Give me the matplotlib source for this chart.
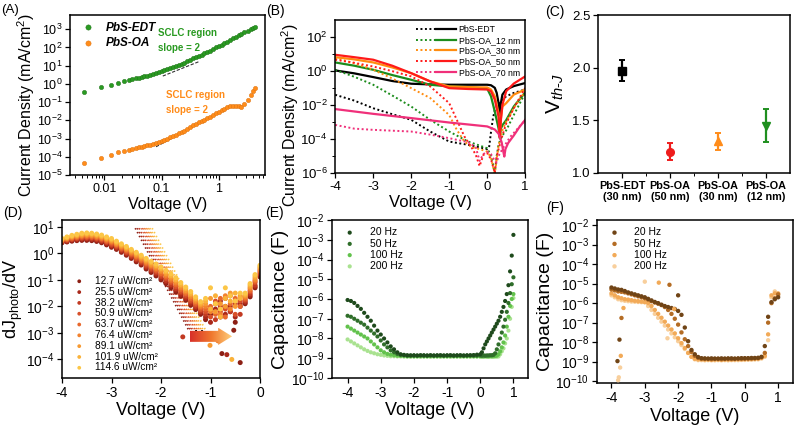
import numpy as np
import matplotlib
matplotlib.use("Agg")
import matplotlib.pyplot as plt
from matplotlib.legend_handler import HandlerTuple
from matplotlib.colors import LinearSegmentedColormap
from matplotlib.patches import Polygon
from matplotlib.ticker import FixedLocator, NullFormatter, NullLocator

plt.rcParams["font.family"] = ["Liberation Sans", "DejaVu Sans"]
plt.rcParams["mathtext.fontset"] = "custom"
plt.rcParams["mathtext.rm"] = "Liberation Sans"
plt.rcParams["mathtext.it"] = "Liberation Sans:italic"
plt.rcParams["mathtext.bf"] = "Liberation Sans:bold"
plt.rcParams["axes.unicode_minus"] = False
plt.rcParams["axes.linewidth"] = 1.1

# ---- (A) dark J-V, log-log
a_volt = [0.0044, 0.0088, 0.0132, 0.0176, 0.022, 0.0264, 0.0308, 0.0352, 0.04, 0.045,
          0.05, 0.056, 0.063, 0.07, 0.08, 0.09, 0.1, 0.112, 0.125, 0.14,
          0.16, 0.18, 0.2, 0.225, 0.25, 0.28, 0.32, 0.36, 0.4, 0.45,
          0.5, 0.56, 0.63, 0.7, 0.8, 0.9, 1.0, 1.12, 1.25, 1.4,
          1.6, 1.8, 2.0, 2.25, 2.5, 2.8, 3.2, 3.6, 4.0, 4.3]
a_edt = [-0.47, -0.19, -0.07, 0.06, 0.15, 0.21, 0.26, 0.30, 0.34, 0.38,
         0.42, 0.46, 0.50, 0.54, 0.59, 0.64, 0.70, 0.75, 0.80, 0.86,
         0.92, 0.98, 1.03, 1.10, 1.17, 1.24, 1.32, 1.40, 1.47, 1.54,
         1.61, 1.68, 1.76, 1.83, 1.92, 2.00, 2.07, 2.16, 2.24, 2.32,
         2.42, 2.50, 2.58, 2.66, 2.74, 2.82, 2.91, 2.99, 3.05, 3.10]
a_oa = [-4.32, -4.05, -3.90, -3.76, -3.68, -3.62, -3.57, -3.52, -3.48, -3.44,
        -3.41, -3.37, -3.33, -3.28, -3.23, -3.18, -3.14, -3.07, -3.00, -2.93,
        -2.85, -2.78, -2.72, -2.64, -2.56, -2.47, -2.37, -2.27, -2.18, -2.11,
        -2.04, -1.96, -1.87, -1.79, -1.69, -1.60, -1.53, -1.44, -1.36, -1.27,
        -1.22, -1.21, -1.22, -1.24, -1.25, -1.10, -0.90, -0.62, -0.38, -0.25]
a_fit_edt_v = [0.105, 0.45]
a_fit_edt = [0.43, 1.22]
a_fit_oa_v = [0.08, 1.5]
a_fit_oa = [-3.45, -1.28]

# ---- (B) J-V, dotted and solid curves
b_labels = ["PbS-EDT", "PbS-OA_12 nm", "PbS-OA_30 nm", "PbS-OA_50 nm", "PbS-OA_70 nm"]
b_edt_v = [-4, -3.5, -3, -2.5, -2, -1.5, -1, -0.5, 0, 0.1, 0.2, 0.25, 0.3, 0.33, 0.36, 0.4, 0.5, 0.7, 1.0]
b_edt = [0.02, -0.15, -0.37, -0.6, -0.76, -0.8, -0.82, -0.82, -0.82, -0.85, -1.0, -1.3, -1.9, -2.6, -1.9, -1.4, -1.1, -0.9, -0.72]
b_12_v = [-4, -3.5, -3, -2.5, -2, -1.5, -1, -0.5, 0, 0.1, 0.2, 0.3, 0.33, 0.36, 0.4, 0.5, 0.7, 1.0]
b_12 = [0.49, 0.3, 0.06, -0.25, -0.53, -0.82, -0.92, -0.96, -1.05, -1.5, -2.4, -3.4, -3.96, -3.4, -3.2, -2.9, -2.1, -1.27]
b_30_v = [-4, -3.5, -3, -2.5, -2, -1.5, -1, -0.5, 0, 0.1, 0.2, 0.3, 0.33, 0.36, 0.4, 0.5, 0.7, 1.0]
b_30 = [0.8, 0.67, 0.49, 0.2, -0.14, -0.63, -0.92, -0.96, -0.98, -1.1, -1.5, -2.5, -3.9, -2.8, -2.1, -1.9, -1.4, -1.1]
b_50_v = [-4, -3.5, -3, -2.5, -2, -1.5, -1, -0.5, 0, 0.1, 0.2, 0.3, 0.33, 0.36, 0.4, 0.5, 0.7, 1.0]
b_50 = [0.94, 0.8, 0.65, 0.3, -0.14, -0.62, -1.02, -1.07, -1.1, -1.2, -1.7, -2.7, -3.9, -2.9, -2.0, -1.2, -0.75, -0.33]
b_70_v = [-4, -3, -2, -1, 0, 0.2, 0.3, 0.38, 0.42, 0.45, 0.48, 0.55, 0.7, 0.85, 1.0]
b_70 = [-2.25, -2.53, -2.78, -3.04, -3.27, -3.45, -3.7, -4.2, -4.7, -5.04, -4.6, -4.25, -3.8, -3.3, -2.88]
b_edt_d_v = [-4, -3.5, -3, -2.5, -2, -1.5, -1, -0.5, 0, 0.05, 0.1, 0.15, 0.2, 0.3, 0.5, 0.7, 1.0]
b_edt_d = [-1.41, -1.75, -2.2, -2.55, -2.88, -3.57, -4.16, -4.35, -4.6, -4.5, -3.6, -2.8, -2.3, -1.9, -1.5, -1.3, -1.1]
b_12_d_v = [-4, -3.5, -3, -2.5, -2, -1.5, -1, -0.5, 0, 0.1, 0.15, 0.2, 0.25, 0.3, 0.4, 0.5, 0.7, 1.0]
b_12_d = [0.06, -0.35, -0.82, -1.45, -2.1, -2.88, -3.57, -4.16, -4.55, -5.0, -5.5, -6.0, -5.0, -4.3, -3.8, -3.5, -2.6, -1.3]
b_30_d_v = [-4, -3.5, -3, -2.5, -2, -1.5, -1, -0.8, -0.6, -0.4, -0.2, 0, 0.1, 0.15, 0.2, 0.25, 0.3, 0.4, 0.5, 0.7, 1.0]
b_30_d = [0.75, 0.45, 0.06, -0.45, -1.02, -1.6, -2.6, -3.47, -4.16, -4.5, -4.6, -4.75, -5.1, -5.6, -6.0, -5.2, -4.4, -3.5, -3.0, -2.2, -1.2]
b_50_d_v = [-4, -3.5, -3, -2.5, -2, -1.5, -1, -0.8, -0.6, -0.4, -0.3, -0.2, -0.1, 0, 0.1, 0.15, 0.2, 0.25, 0.3, 0.4, 0.5, 0.7, 1.0]
b_50_d = [0.65, 0.47, 0.25, -0.02, -0.33, -0.92, -1.9, -2.88, -3.86, -4.55, -4.94, -5.6, -4.94, -4.84, -5.2, -5.6, -6.0, -5.0, -4.6, -3.8, -3.1, -2.2, -1.0]
b_70_d_v = [-4, -3.5, -3, -2.5, -2, -1.5, -1, -0.5, -0.3, -0.2, -0.1, 0, 0.1, 0.2, 0.25, 0.3, 0.4, 0.6, 0.8, 1.0]
b_70_d = [-3.18, -3.4, -3.47, -3.52, -3.57, -3.75, -3.96, -4.2, -4.5, -5.3, -4.9, -4.75, -4.9, -5.3, -5.4, -5.0, -4.6, -3.9, -3.4, -2.9]

# ---- (C) threshold voltage
c_labels = ["PbS-EDT\n(30 nm)", "PbS-OA\n(50 nm)", "PbS-OA\n(30 nm)", "PbS-OA\n(12 nm)"]
c_vth = [1.97, 1.20, 1.30, 1.45]
c_err = [0.10, 0.08, 0.08, 0.16]

# ---- (D) dJphoto/dV for nine light intensities
d_labels = ["12.7 uW/cm²", "25.5 uW/cm²", "38.2 uW/cm²", "50.9 uW/cm²", "63.7 uW/cm²",
            "76.4 uW/cm²", "89.1 uW/cm²", "101.9 uW/cm²", "114.6 uW/cm²"]
d_volt = [-4.0, -3.9, -3.8, -3.7, -3.6, -3.5, -3.4, -3.3, -3.2, -3.1,
          -3.0, -2.9, -2.8, -2.7, -2.6, -2.5, -2.4, -2.3, -2.2, -2.1,
          -2.0, -1.9, -1.8, -1.7, -1.6, -1.5, -1.4, -1.3, -1.2,
          -1.1, -1.0, -0.9, -0.8, -0.7, -0.6, -0.5, -0.4, -0.3, -0.2, -0.1, 0.0]
d_127 = [0.40, 0.43, 0.46, 0.48, 0.49, 0.49, 0.48, 0.45, 0.40, 0.32,
         0.23, 0.15, 0.04, -0.07, -0.19, -0.32, -0.44, -0.59, -0.72, -0.85,
         -1.00, -1.14, -1.30, -1.46, -1.62, -1.77, -1.96, -2.12, -2.30,
         -2.5, -2.3, -1.9, -2.4, -2.0, -2.2, -2.6, -2.0, -1.9, -1.64, -1.3, -0.89]
d_255 = [0.42, 0.45, 0.49, 0.51, 0.52, 0.53, 0.52, 0.49, 0.44, 0.36,
         0.27, 0.19, 0.08, -0.03, -0.15, -0.28, -0.39, -0.54, -0.67, -0.79,
         -0.94, -1.08, -1.23, -1.39, -1.56, -1.71, -1.90, -2.06, -2.24,
         -2.4, -2.6, -2.1, -1.8, -2.3, -2.0, -2.4, -1.9, -1.85, -1.58, -1.25, -0.83]
d_382 = [0.44, 0.48, 0.52, 0.54, 0.56, 0.56, 0.55, 0.52, 0.47, 0.40,
         0.31, 0.23, 0.12, 0.01, -0.11, -0.23, -0.35, -0.49, -0.62, -0.74,
         -0.88, -1.02, -1.17, -1.33, -1.49, -1.65, -1.83, -2.00, -2.18,
         -2.3, -2.1, -2.5, -2.0, -1.7, -2.2, -1.9, -2.3, -1.8, -1.52, -1.2, -0.78]
d_509 = [0.46, 0.50, 0.54, 0.57, 0.59, 0.60, 0.59, 0.56, 0.51, 0.43,
         0.35, 0.27, 0.16, 0.05, -0.06, -0.19, -0.30, -0.44, -0.56, -0.68,
         -0.82, -0.95, -1.10, -1.26, -1.43, -1.58, -1.77, -1.94, -2.12,
         -2.2, -2.4, -1.8, -2.2, -2.1, -1.6, -2.3, -1.8, -1.75, -1.45, -1.1, -0.72]
d_637 = [0.48, 0.53, 0.57, 0.60, 0.63, 0.63, 0.62, 0.59, 0.55, 0.47,
         0.40, 0.31, 0.20, 0.10, -0.02, -0.14, -0.26, -0.39, -0.51, -0.63,
         -0.76, -0.89, -1.04, -1.19, -1.36, -1.52, -1.70, -1.88, -2.06,
         -2.1, -2.0, -2.3, -1.7, -2.4, -1.9, -1.7, -2.0, -1.7, -1.4, -1.05, -0.66]
d_764 = [0.50, 0.55, 0.60, 0.63, 0.66, 0.67, 0.66, 0.63, 0.58, 0.51,
         0.44, 0.34, 0.24, 0.14, 0.02, -0.10, -0.21, -0.34, -0.46, -0.57,
         -0.69, -0.83, -0.97, -1.12, -1.30, -1.46, -1.64, -1.82, -2.00,
         -2.0, -2.2, -1.9, -2.3, -1.6, -2.1, -1.8, -1.65, -1.65, -1.33, -1.0, -0.61]
d_891 = [0.52, 0.57, 0.63, 0.66, 0.69, 0.70, 0.69, 0.66, 0.62, 0.55,
         0.48, 0.38, 0.28, 0.18, 0.07, -0.05, -0.16, -0.29, -0.41, -0.51,
         -0.63, -0.77, -0.90, -1.05, -1.23, -1.40, -1.57, -1.76, -1.94,
         -1.9, -1.7, -2.2, -1.9, -2.0, -1.5, -2.0, -1.6, -1.6, -1.27, -0.93, -0.55]
d_1019 = [0.54, 0.60, 0.65, 0.69, 0.73, 0.74, 0.73, 0.70, 0.65, 0.58,
          0.52, 0.42, 0.32, 0.22, 0.11, 0.00, -0.12, -0.24, -0.35, -0.46,
          -0.57, -0.70, -0.84, -0.99, -1.17, -1.33, -1.51, -1.70, -1.88,
          -1.8, -2.1, -1.6, -2.4, -1.7, -1.8, -1.5, -1.7, -1.55, -1.2, -0.86, -0.5]
d_1146 = [0.56, 0.62, 0.68, 0.72, 0.76, 0.77, 0.76, 0.73, 0.69, 0.62,
          0.56, 0.46, 0.36, 0.26, 0.15, 0.04, -0.07, -0.19, -0.30, -0.40,
          -0.51, -0.64, -0.77, -0.92, -1.10, -1.27, -1.44, -1.64, -1.82,
          -1.7, -1.3, -1.9, -2.1, -1.3, -1.6, -1.8, -1.5, -1.5, -1.14, -0.8, -0.45]
# fine-step streaks (top and bottom end of each streak)
d_streak_top_v = [-2.52, -2.48, -2.44, -2.39, -2.35, -2.31, -2.27, -2.23, -2.18]
d_streak_bot_v = [-1.44, -1.40, -1.36, -1.31, -1.27, -1.23, -1.19, -1.15, -1.10]
d_streak_j = [0.95, -2.9]
# stray low points
d_out_v = [-1.56, -1.01, -0.77, -0.67, -0.57, -0.40, -0.53, -0.85]
d_out = [-3.15, -3.47, -3.78, -3.82, -4.0, -4.12, -2.9, -3.3]
d_out_series = [2, 6, 0, 1, 7, 0, 0, 5]

# ---- (E) C-V, green set
e_labels = ["20 Hz", "50 Hz", "100 Hz", "200 Hz"]
e_volt = [-4.0, -3.9, -3.8, -3.7, -3.6, -3.5, -3.4, -3.3, -3.2, -3.1,
          -3.0, -2.9, -2.8, -2.7, -2.6, -2.5, -2.4, -2.3, -2.2, -2.1,
          -2.0, -1.9, -1.8, -1.7, -1.6, -1.5, -1.4, -1.3, -1.2, -1.1,
          -1.0, -0.9, -0.8, -0.7, -0.6, -0.5, -0.4, -0.3, -0.2, -0.1, 0.0,
          0.05, 0.1, 0.15, 0.2, 0.25, 0.3, 0.35, 0.4, 0.45, 0.5,
          0.55, 0.6, 0.65, 0.7, 0.75, 0.8, 0.85, 0.9, 0.95, 1.0]
e_20 = [-6.05, -6.1, -6.2, -6.35, -6.5, -6.7, -6.9, -7.1, -7.35, -7.6,
        -7.8, -8.0, -8.2, -8.4, -8.55, -8.7, -8.8, -8.83,
        -8.85, -8.86, -8.85, -8.86, -8.85, -8.85, -8.86, -8.85, -8.86, -8.85,
        -8.85, -8.86, -8.85, -8.85, -8.86, -8.85, -8.85, -8.86, -8.85, -8.85,
        -8.84, -8.82, -8.8,
        -8.7, -8.5, -8.3, -8.15, -8.0, -7.85, -7.7, -7.55, -7.4, -7.25,
        -7.1, -6.9, -6.65, -6.4, -6.1, -5.75, -5.3, -4.6, -3.8, -2.75]
e_50 = [-6.85, -6.9, -7.0, -7.1, -7.2, -7.3, -7.45, -7.6, -7.75, -7.9,
        -8.1, -8.3, -8.45, -8.6, -8.7, -8.78, -8.83, -8.85,
        -8.87, -8.86, -8.87, -8.87, -8.86, -8.87, -8.87, -8.86, -8.87, -8.87,
        -8.86, -8.87, -8.87, -8.86, -8.87, -8.87, -8.86, -8.87, -8.87, -8.86,
        -8.87, -8.87, -8.86,
        -8.87, -8.86, -8.87, -8.86, -8.86, -8.85, -8.85, -8.83, -8.75, -8.55,
        -8.3, -8.0, -7.7, -7.4, -7.05, -6.65, -6.2, -5.7, -5.25, -4.9]
e_100 = [-7.4, -7.5, -7.6, -7.7, -7.8, -7.9, -8.0, -8.15, -8.3, -8.45,
         -8.6, -8.7, -8.78, -8.82, -8.85, -8.87, -8.88, -8.88,
         -8.9, -8.89, -8.9, -8.9, -8.89, -8.9, -8.9, -8.89, -8.9, -8.9,
         -8.89, -8.9, -8.9, -8.89, -8.9, -8.9, -8.89, -8.9, -8.9, -8.89,
         -8.9, -8.9, -8.89,
         -8.9, -8.9, -8.89, -8.9, -8.9, -8.89, -8.9, -8.89, -8.88, -8.87,
         -8.8, -8.65, -8.45, -8.2, -7.85, -7.4, -6.9, -6.35, -6.0, -5.75]
e_200 = [-8.05, -8.15, -8.25, -8.35, -8.45, -8.55, -8.63, -8.7, -8.75, -8.8,
         -8.83, -8.86, -8.88, -8.9, -8.9, -8.91, -8.91, -8.92,
         -8.92, -8.93, -8.92, -8.92, -8.93, -8.92, -8.92, -8.93, -8.92, -8.92,
         -8.93, -8.92, -8.92, -8.93, -8.92, -8.92, -8.93, -8.92, -8.92, -8.93,
         -8.92, -8.92, -8.93,
         -8.92, -8.93, -8.92, -8.92, -8.93, -8.92, -8.92, -8.93, -8.92, -8.92,
         -8.91, -8.8, -8.65, -8.5, -8.25, -8.0, -7.6, -7.0, -6.4, -5.95]

# ---- (F) C-V, brown/orange set
f_volt = [-4.0, -3.9, -3.8, -3.7, -3.6, -3.5, -3.4, -3.3, -3.2, -3.1,
          -3.0, -2.9, -2.8, -2.7, -2.6, -2.5, -2.4, -2.3, -2.2, -2.1,
          -2.0, -1.9, -1.8, -1.7, -1.6, -1.5, -1.4, -1.3,
          -1.2, -1.1, -1.0, -0.9, -0.8, -0.7, -0.6, -0.5, -0.4, -0.3,
          -0.2, -0.1, 0.0, 0.1, 0.2, 0.3, 0.4, 0.5,
          0.6, 0.7, 0.8, 0.9, 1.0]
f_20 = [-5.2, -5.25, -5.3, -5.32, -5.38, -5.45, -5.5, -5.55, -5.6, -5.65,
        -5.7, -5.78, -5.86, -5.94, -6.0, -6.08, -6.15, -6.2, -6.25, -6.3,
        -6.4, -6.6, -7.25, -7.95, -8.4, -8.62, -8.76, -8.82,
        -8.83, -8.84, -8.83, -8.84, -8.84, -8.83, -8.84, -8.83, -8.83, -8.84,
        -8.83, -8.82, -8.82, -8.82, -8.81, -8.81, -8.8, -8.75,
        -8.2, -6.7, -5.95, -5.8, -5.7]
f_50 = [-5.3, -5.35, -5.4, -5.42, -5.45, -5.5, -5.55, -5.6, -5.65, -5.7,
        -5.75, -5.82, -5.9, -5.97, -6.03, -6.1, -6.2, -6.35, -6.55, -6.8,
        -7.1, -7.5, -7.85, -8.2, -8.5, -8.7, -8.8, -8.85,
        -8.86, -8.86, -8.87, -8.86, -8.86, -8.87, -8.86, -8.86, -8.86, -8.86,
        -8.85, -8.85, -8.85, -8.84, -8.84, -8.83, -8.82, -8.78,
        -8.55, -7.0, -6.0, -5.75, -5.55]
f_100 = [-5.5, -5.6, -5.7, -5.75, -5.8, -5.82, -5.85, -5.88, -5.9, -5.92,
         -5.95, -6.0, -6.15, -6.35, -6.55, -6.75, -6.95, -7.15, -7.35, -7.55,
         -7.8, -8.05, -8.3, -8.55, -8.75, -8.85, -8.88, -8.88,
         -8.89, -8.89, -8.9, -8.89, -8.89, -8.9, -8.89, -8.89, -8.89, -8.88,
         -8.88, -8.88, -8.87, -8.87, -8.86, -8.85, -8.84, -8.8,
         -8.7, -7.6, -5.6, -5.5, -5.5]
f_200 = [-5.6, -5.7, -5.8, -5.85, -5.88, -5.9, -5.92, -5.93, -5.94, -5.95,
         -5.95, -6.15, -6.35, -6.55, -6.75, -6.95, -7.15, -7.35, -7.55, -7.75,
         -7.95, -8.15, -8.35, -8.55, -8.75, -8.88, -8.92, -8.92,
         -8.93, -8.92, -8.93, -8.93, -8.92, -8.93, -8.92, -8.93, -8.92, -8.92,
         -8.92, -8.91, -8.91, -8.9, -8.9, -8.89, -8.88, -8.84,
         -8.75, -7.9, -5.7, -5.4, -5.6]
f_extra_v = [-3.82, -3.76, -3.7, -3.64, -3.8, -3.78, -3.74, -3.72, -3.0, -2.58, -2.26, -2.0, -2.32, -2.12]
f_extra = [-8.97, -7.87, -6.76, -6.25, -9.95, -9.8, -9.3, -8.7, -4.9, -4.95, -5.06, -5.6, -7.8, -6.3]
f_extra_series = [0, 0, 1, 2, 3, 3, 3, 2, 3, 2, 1, 0, 3, 2]


def dec(vals):
    return np.power(10.0, np.asarray(vals, dtype=float))


def style(ax, size=9):
    ax.tick_params(which="major", direction="out", length=3.5, width=0.9, labelsize=size, pad=2)
    ax.tick_params(which="minor", direction="out", length=2, width=0.7)


def log_decades(ax, lo, hi):
    ax.yaxis.set_major_locator(FixedLocator([10.0 ** k for k in range(lo, hi + 1)]))
    ax.yaxis.set_minor_locator(NullLocator())


green = "#2a9a22"
orange = "#ff8c1a"
vth_label = r"V$_{th\text{-}J}$"

fig = plt.figure(figsize=(8.0, 4.29), dpi=100)

# ---------------- (A)
ax = fig.add_axes([0.0875, 0.592, 0.244, 0.373])
ax.set_xscale("log")
ax.set_yscale("log")
ax.plot(a_fit_edt_v, dec(a_fit_edt), color="#333333", lw=0.8, ls=(0, (3, 1.5)), zorder=1)
ax.plot(a_fit_oa_v, dec(a_fit_oa), color="#333333", lw=0.8, ls=(0, (3, 1.5)), zorder=1)
ax.scatter(a_volt, dec(a_edt), s=10, color=green, edgecolors="#1d6e17", linewidths=0.3, zorder=2, label="PbS-EDT")
ax.scatter(a_volt, dec(a_oa), s=10, color=orange, edgecolors="#d87010", linewidths=0.3, zorder=2, label="PbS-OA")
ax.set_xlim(0.0025, 6.5)
ax.set_ylim(1e-5, 6e3)
log_decades(ax, -5, 3)
ax.set_xticks([0.01, 0.1, 1], ["0.01", "0.1", "1"])
style(ax)
ax.set_xlabel("Voltage (V)", fontsize=11.5, labelpad=2)
ax.set_ylabel("Current Density (mA/cm$^2$)", fontsize=11.5)
ax.yaxis.set_label_coords(-0.168, 0.44)
ax.legend(loc="upper left", frameon=False, prop=dict(weight="bold", style="italic", size=8.5),
          handletextpad=0.5, borderaxespad=0.15, labelspacing=0.3, markerscale=1.2)
ax.text(0.45, 0.84, "SCLC region\nslope = 2", transform=ax.transAxes, color=green,
        fontsize=7, fontweight="bold", va="center", linespacing=1.6)
ax.text(0.49, 0.455, "SCLC region\nslope = 2", transform=ax.transAxes, color=orange,
        fontsize=7, fontweight="bold", va="center", linespacing=1.6)

# ---------------- (B)
ax = fig.add_axes([0.419, 0.597, 0.2375, 0.357])
ax.set_yscale("log")
b_sets = [(b_edt_d_v, b_edt_d, b_edt_v, b_edt, "black"),
          (b_12_d_v, b_12_d, b_12_v, b_12, "#1c8c1c"),
          (b_30_d_v, b_30_d, b_30_v, b_30, "#ff8c10"),
          (b_50_d_v, b_50_d, b_50_v, b_50, "#ff1a1a"),
          (b_70_d_v, b_70_d, b_70_v, b_70, "#f0307a")]
handles = []
for dv, dj, sv, sj, c in b_sets:
    l1, = ax.plot(dv, dec(dj), color=c, lw=1.4, ls=(0, (1, 1.3)))
    l2, = ax.plot(sv, dec(sj), color=c, lw=1.6)
    handles.append((l1, l2))
ax.set_xlim(-4, 1)
ax.set_ylim(1e-6, 1e3)
ax.yaxis.set_major_locator(FixedLocator([1e-6, 1e-4, 1e-2, 1e0, 1e2]))
ax.yaxis.set_minor_locator(FixedLocator([1e-5, 1e-3, 1e-1, 1e1]))
ax.yaxis.set_minor_formatter(NullFormatter())
ax.set_xticks([-4, -3, -2, -1, 0, 1])
style(ax, 9.5)
ax.set_xlabel("Voltage (V)", fontsize=12, labelpad=2)
ax.set_ylabel("Current Density (mA/cm$^2$)", fontsize=11.5)
ax.yaxis.set_label_coords(-0.18, 0.375)
ax.legend(handles, b_labels, handler_map={tuple: HandlerTuple(ndivide=None, pad=0.0)},
          loc="upper right", fontsize=6.3, frameon=False, handlelength=4.6,
          labelspacing=0.2, handletextpad=0.3, borderaxespad=0.2)

# ---------------- (C)
ax = fig.add_axes([0.7475, 0.597, 0.24, 0.368])
c_pos = np.arange(len(c_vth)) + 1
c_marks = ["s", "o", "^", "v"]
c_cols = ["black", "#ee1c1c", "#ff8c1a", "#1f8f1f"]
for i in range(len(c_vth)):
    ax.errorbar(c_pos[i], c_vth[i], yerr=c_err[i], fmt=c_marks[i], color=c_cols[i],
                ms=5.5, elinewidth=1.6, capsize=2.5, capthick=1.4)
ax.set_xlim(0.5, 4.5)
ax.set_ylim(1.0, 2.5)
ax.set_yticks([1.0, 1.5, 2.0, 2.5], ["1.0", "1.5", "2.0", "2.5"])
ax.set_xticks(c_pos, c_labels, fontweight="bold")
ax.set_xticks(c_pos[:-1] + 0.5, minor=True)
style(ax, 9.5)
ax.tick_params(axis="x", labelsize=7.8)
ax.set_ylabel(vth_label, fontsize=15, labelpad=4)

# ---------------- (D)
ax = fig.add_axes([0.0775, 0.119, 0.2475, 0.368])
ax.set_yscale("log")
d_sets = [d_127, d_255, d_382, d_509, d_637, d_764, d_891, d_1019, d_1146]
d_cols = ["#8c1f14", "#a8281a", "#c23a22", "#d8502a", "#e8682c", "#f2822e", "#f79a32", "#fab23a", "#fcc646"]
for i in range(len(d_sets)):
    ax.plot([d_streak_top_v[i], d_streak_bot_v[i]], dec(d_streak_j), color=d_cols[i],
            lw=1.3, ls=(0, (0.8, 1.6)), zorder=1)
d_handles = []
for i in range(len(d_sets)):
    h = ax.scatter(d_volt, dec(d_sets[i]), s=13, color=d_cols[i], edgecolors="none", zorder=2)
    d_handles.append(h)
ax.scatter(d_out_v, dec(d_out), s=13, color=[d_cols[k] for k in d_out_series], edgecolors="none", zorder=2)
ax.set_xlim(-4, 0)
ax.set_ylim(2e-5, 18)
log_decades(ax, -4, 1)
ax.set_xticks([-4, -3, -2, -1, 0])
style(ax, 10)
ax.set_xlabel("Voltage (V)", fontsize=13, labelpad=2)
ax.set_ylabel(r"dJ$_{\mathrm{photo}}$/dV", fontsize=13, labelpad=1)
ax.legend(d_handles, d_labels, loc="lower left", bbox_to_anchor=(0.0, -0.01), frameon=False,
          fontsize=7.3, labelspacing=0.08, handletextpad=0.6, borderaxespad=0.3, markerscale=0.75)
# gradient arrow marking V_th-J
arr = ax.inset_axes([0.646, 0.209, 0.213, 0.109])
arr.axis("off")
arr.set_xlim(0, 1)
arr.set_ylim(0, 1)
grad = np.linspace(0, 1, 200).reshape(1, -1)
cmap = LinearSegmentedColormap.from_list("arrow", ["#d8302a", "#f0782e", "#ffd27e"])
im = arr.imshow(grad, extent=[0, 1, 0, 1], aspect="auto", cmap=cmap)
shape = Polygon([[0, 0.18], [0.67, 0.18], [0.67, 0.0], [1.0, 0.5], [0.67, 1.0], [0.67, 0.82], [0, 0.82]],
                closed=True, transform=arr.transData, facecolor="none", edgecolor="none")
arr.add_patch(shape)
im.set_clip_path(shape)
ax.text(0.727, 0.266, vth_label, transform=ax.transAxes, fontsize=9, fontweight="bold",
        fontstyle="italic", ha="center", va="center", zorder=5)

# ---------------- (E)
ax = fig.add_axes([0.415, 0.119, 0.245, 0.368])
ax.set_yscale("log")
e_sets = [e_20, e_50, e_100, e_200]
e_cols = ["#1e4a1c", "#2f6e2a", "#62c24c", "#a9e290"]
e_handles = []
for i in range(len(e_sets)):
    h = ax.scatter(e_volt, dec(e_sets[i]), s=9, color=e_cols[i], edgecolors="none", zorder=5 - i)
    e_handles.append(h)
ax.set_xlim(-4.47, 1.44)
ax.set_ylim(1e-10, 1e-2)
log_decades(ax, -10, -2)
ax.set_xticks([-4, -3, -2, -1, 0, 1])
style(ax, 10)
ax.set_xlabel("Voltage (V)", fontsize=13, labelpad=2)
ax.set_ylabel("Capacitance (F)", fontsize=14, labelpad=1)
ax.legend(e_handles, e_labels, loc="upper left", frameon=False, fontsize=7.5,
          labelspacing=0.12, handletextpad=0.9, borderaxespad=0.3)

# ---------------- (F)
ax = fig.add_axes([0.746, 0.107, 0.245, 0.38])
ax.set_yscale("log")
f_sets = [f_20, f_50, f_100, f_200]
f_cols = ["#704416", "#b46c24", "#f2aa58", "#f8cf9c"]
f_handles = []
for i in range(len(f_sets)):
    h = ax.scatter(f_volt, dec(f_sets[i]), s=10, color=f_cols[i], edgecolors="none", zorder=5 - i)
    f_handles.append(h)
ax.scatter(f_extra_v, dec(f_extra), s=10, color=[f_cols[k] for k in f_extra_series], edgecolors="none", zorder=6)
ax.set_xlim(-4.44, 1.44)
ax.set_ylim(8e-11, 1.8e-2)
log_decades(ax, -10, -2)
ax.set_xticks([-4, -3, -2, -1, 0, 1])
style(ax, 10)
ax.set_xlabel("Voltage (V)", fontsize=13, labelpad=2)
ax.set_ylabel("Capacitance (F)", fontsize=14, labelpad=1)
ax.legend(f_handles, e_labels, loc="upper left", frameon=False, fontsize=7.5,
          labelspacing=0.12, handletextpad=0.9, borderaxespad=0.3)

# panel letters
for txt, x, y in [("(A)", 0.001, 0.977), ("(B)", 0.333, 0.974), ("(C)", 0.681, 0.972),
                  ("(D)", 0.004, 0.504), ("(E)", 0.331, 0.504), ("(F)", 0.683, 0.515)]:
    fig.text(x, y, txt, fontsize=9.5 if txt == "(A)" else 10, va="center", ha="left")

fig.savefig("out.png", dpi=100)
